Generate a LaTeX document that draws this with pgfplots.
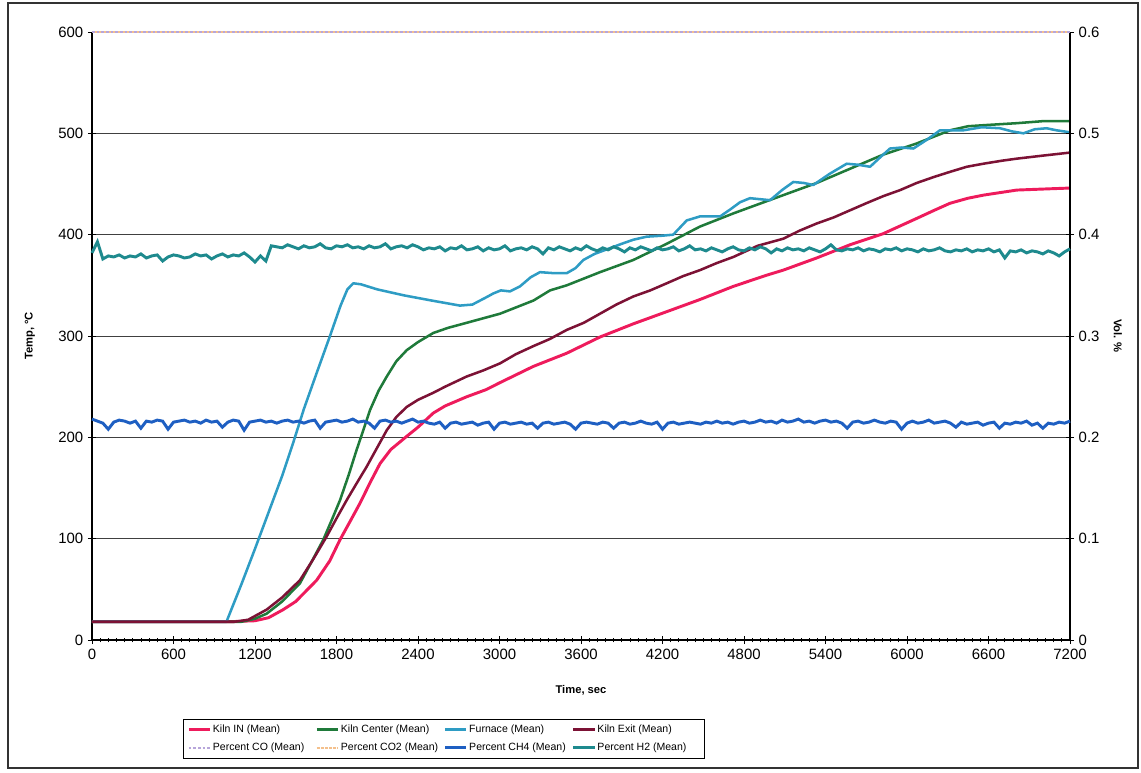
\documentclass[border=0pt]{standalone}
\usepackage{fontspec}
\setmainfont{Liberation Sans}
\usepackage{pgfplots}
\pgfplotsset{compat=1.18}

\definecolor{kilnin}{HTML}{EE1B5C}
\definecolor{kilncenter}{HTML}{1F7A3A}
\definecolor{furnace}{HTML}{2E9CC4}
\definecolor{kilnexit}{HTML}{7C1235}
\definecolor{pco}{HTML}{B7A6DA}
\definecolor{pcotwo}{HTML}{F4C08C}
\definecolor{pch}{HTML}{1E5FC2}
\definecolor{phtwo}{HTML}{1E8A8E}

\pgfplotsset{
  every axis/.append style={
    scale only axis, width=733.5pt, height=456pt,
    xmin=0, xmax=7200,
    tick label style={font=\fontsize{11.2}{13}\selectfont},
    /pgf/number format/assume math mode=true,
    /pgf/number format/1000 sep={},
    scaled ticks=false,
    tick align=center,
    major tick length=6pt,
    minor tick length=3.5pt,
    tick style={black, line width=0.6pt},
    axis line style={black, line width=0.8pt},
    label style={font=\fontsize{8.4}{10}\selectfont\bfseries},
  },
  leg/.style={legend image code/.code={\draw[##1] (0pt,0pt) -- (16pt,0pt);}},
}

\begin{document}
\begin{tikzpicture}
\begin{axis}[
  name=ax1,
  axis x line*=bottom, axis y line*=left,
  ymin=0, ymax=600,
  xtick={0,600,...,7200},
  minor x tick num=9,
  ytick={0,100,...,600},
  ymajorgrids,
  grid style={black!75, line width=0.5pt},
  xlabel={Time, sec},
  ylabel={Temp, °C},
  xlabel style={at={(axis description cs:0.5,-0.0822)}, anchor=center},
  ylabel style={at={(axis description cs:-0.0634,0.5)}, anchor=center},
  line join=round,
]
\addplot[kilnin, line width=2.2pt] coordinates {
(0,18)(1000,18)(1200,19)(1300,22)(1408,30)(1500,38)(1654,59)(1750,78)(1826,99)(1900,117)
(1973,135)(2050,156)(2120,174)(2200,188)(2317,201)(2400,210)(2513,224)(2600,231)(2758,240)
(2900,247)(3004,254)(3249,270)(3495,283)(3740,299)(3985,312)(4231,324)(4476,336)(4722,349)
(4967,360)(5089,365)(5335,377)(5580,390)(5825,401)(6071,416)(6200,424)(6317,431)(6450,436)
(6562,439)(6808,444)(7000,445)(7200,446)
};
\addplot[kilncenter, line width=1.9pt] coordinates {
(0,18)(1100,18)(1200,21)(1286,26)(1400,38)(1531,56)(1620,78)(1703,99)(1770,120)(1826,138)
(1890,163)(1949,188)(2000,208)(2047,227)(2110,246)(2170,260)(2240,275)(2317,286)(2400,294)
(2513,303)(2620,308)(2758,313)(3004,322)(3250,335)(3372,345)(3495,350)(3740,363)(3985,375)
(4231,391)(4476,408)(4722,421)(4844,427)(5089,439)(5335,451)(5580,465)(5825,479)(6071,490)
(6317,503)(6450,507)(6562,508)(6808,510)(7000,512)(7200,512)
};
\addplot[furnace, line width=1.9pt] coordinates {
(0,18)(990,18)(1100,55)(1200,90)(1300,126)(1400,162)(1482,195)(1560,228)(1650,262)(1752,300)
(1830,330)(1880,346)(1924,352)(1980,351)(2100,346)(2300,340)(2500,335)(2709,330)(2800,331)
(2900,338)(2955,342)(3010,345)(3077,344)(3151,349)(3230,358)(3298,363)(3400,362)(3495,362)
(3560,367)(3617,375)(3700,381)(3800,386)(3900,391)(3985,395)(4083,398)(4200,399)(4279,400)
(4378,414)(4476,418)(4624,418)(4700,425)(4771,432)(4844,436)(4992,434)(5080,444)(5163,452)
(5240,451)(5310,449)(5430,460)(5556,470)(5640,469)(5728,467)(5800,476)(5875,485)(5960,486)
(6047,485)(6150,494)(6243,503)(6330,503)(6416,503)(6550,506)(6685,505)(6770,502)(6857,500)
(6940,504)(7028,505)(7100,503)(7200,501)
};
\addplot[kilnexit, line width=1.9pt] coordinates {
(0,18)(1050,18)(1150,20)(1286,30)(1400,42)(1531,59)(1630,80)(1727,102)(1800,120)(1875,138)
(1950,155)(2022,171)(2100,190)(2170,207)(2240,220)(2317,230)(2400,237)(2513,244)(2600,250)
(2758,260)(2880,266)(3004,273)(3120,282)(3249,290)(3370,297)(3495,306)(3620,313)(3740,322)
(3860,331)(3985,339)(4110,345)(4231,352)(4350,359)(4476,365)(4600,372)(4722,378)(4900,389)
(5089,396)(5210,404)(5335,411)(5460,417)(5580,424)(5700,431)(5825,438)(5950,444)(6071,451)
(6200,457)(6317,462)(6440,467)(6562,470)(6700,473)(6808,475)(7000,478)(7200,481)
};
\end{axis}

\begin{axis}[
  axis x line=none, axis y line*=right,
  ymin=0, ymax=0.6,
  ytick={0,0.1,...,0.6},
  yticklabel style={/pgf/number format/fixed, /pgf/number format/precision=1},
  ylabel={Vol. \%},
  ylabel style={at={(axis description cs:1.049,0.5)}, anchor=center, rotate=180},
  clip=false,
  leg,
  legend columns=4,
  legend style={
    at={(0.093,-0.130)}, anchor=north west,
    draw=black, line width=0.6pt, fill=white,
    font=\fontsize{7.9}{9}\selectfont,
    nodes={inner xsep=1pt, inner ysep=2pt},
    row sep=2.5pt,
    /tikz/every even column/.append style={column sep=0pt},
  },
  legend cell align=left,
]
\addlegendimage{kilnin, line width=2.2pt}
\addlegendentry{\makebox[76pt][l]{Kiln IN (Mean)}}
\addlegendimage{kilncenter, line width=2pt}
\addlegendentry{\makebox[76pt][l]{Kiln Center (Mean)}}
\addlegendimage{furnace, line width=2pt}
\addlegendentry{\makebox[76pt][l]{Furnace (Mean)}}
\addlegendimage{kilnexit, line width=2pt}
\addlegendentry{\makebox[76pt][l]{Kiln Exit (Mean)}}

\addplot[pcotwo, line width=1pt, forget plot] coordinates {(0,0.6)(7200,0.6)};
\addplot[pco, line width=1.2pt, dash pattern=on 2pt off 1.5pt] coordinates {(0,0.6)(7200,0.6)};
\addlegendentry{\makebox[76pt][l]{Percent CO (Mean)}}
\addlegendimage{pcotwo, line width=1.2pt, dash pattern=on 2pt off 1pt}
\addlegendentry{\makebox[76pt][l]{Percent CO2 (Mean)}}

\addplot[pch, line width=2.2pt] coordinates {
(0,.218)(40,.216)(80,.214)(120,.208)(160,.215)(200,.217)(240,.216)(280,.214)(320,.216)(360,.209)
(400,.216)(440,.215)(480,.217)(520,.216)(560,.208)(600,.215)(640,.216)(680,.217)(720,.215)(760,.216)
(800,.214)(840,.217)(880,.215)(920,.216)(960,.210)(1000,.215)(1040,.217)(1080,.216)(1120,.207)(1160,.215)
(1200,.216)(1240,.217)(1280,.215)(1320,.216)(1360,.214)(1400,.216)(1440,.217)(1480,.215)(1520,.216)(1560,.214)
(1600,.216)(1640,.217)(1680,.209)(1720,.215)(1760,.216)(1800,.217)(1840,.215)(1880,.216)(1920,.218)(1960,.215)
(2000,.216)(2040,.214)(2080,.209)(2120,.216)(2160,.217)(2200,.215)(2240,.216)(2280,.214)(2320,.216)(2360,.218)
(2400,.215)(2440,.216)(2480,.214)(2520,.213)(2560,.215)(2600,.209)(2640,.214)(2680,.215)(2720,.213)(2760,.214)
(2800,.215)(2840,.212)(2880,.214)(2920,.215)(2960,.208)(3000,.214)(3040,.215)(3080,.213)(3120,.214)(3160,.215)
(3200,.213)(3240,.214)(3280,.209)(3320,.214)(3360,.215)(3400,.213)(3440,.214)(3480,.215)(3520,.213)(3560,.208)
(3600,.214)(3640,.215)(3680,.214)(3720,.213)(3760,.215)(3800,.214)(3840,.209)(3880,.214)(3920,.215)(3960,.213)
(4000,.214)(4040,.216)(4080,.214)(4120,.213)(4160,.215)(4200,.208)(4240,.214)(4280,.215)(4320,.213)(4360,.214)
(4400,.215)(4440,.214)(4480,.213)(4520,.215)(4560,.214)(4600,.216)(4640,.214)(4680,.215)(4720,.213)(4760,.215)
(4800,.216)(4840,.214)(4880,.215)(4920,.217)(4960,.215)(5000,.216)(5040,.214)(5080,.217)(5120,.215)(5160,.216)
(5200,.218)(5240,.215)(5280,.216)(5320,.214)(5360,.216)(5400,.217)(5440,.215)(5480,.216)(5520,.214)(5560,.209)
(5600,.215)(5640,.216)(5680,.214)(5720,.215)(5760,.217)(5800,.215)(5840,.214)(5880,.216)(5920,.215)(5960,.208)
(6000,.214)(6040,.216)(6080,.214)(6120,.215)(6160,.217)(6200,.214)(6240,.215)(6280,.216)(6320,.214)(6360,.210)
(6400,.215)(6440,.213)(6480,.214)(6520,.215)(6560,.212)(6600,.214)(6640,.215)(6680,.209)(6720,.214)(6760,.213)
(6800,.215)(6840,.214)(6880,.216)(6920,.212)(6960,.214)(7000,.209)(7040,.214)(7080,.213)(7120,.215)(7160,.214)
(7200,.216)
};
\addlegendentry{\makebox[76pt][l]{Percent CH4 (Mean)}}
\addplot[phtwo, line width=2.2pt] coordinates {
(0,.382)(40,.393)(80,.376)(120,.379)(160,.378)(200,.380)(240,.377)(280,.379)(320,.378)(360,.381)
(400,.377)(440,.379)(480,.380)(520,.374)(560,.378)(600,.380)(640,.379)(680,.377)(720,.378)(760,.381)
(800,.379)(840,.380)(880,.376)(920,.379)(960,.381)(1000,.378)(1040,.380)(1080,.379)(1120,.382)(1160,.378)
(1200,.373)(1240,.379)(1280,.374)(1320,.389)(1360,.388)(1400,.387)(1440,.390)(1480,.388)(1520,.386)(1560,.389)
(1600,.387)(1640,.388)(1680,.391)(1720,.387)(1760,.386)(1800,.389)(1840,.388)(1880,.390)(1920,.387)(1960,.388)
(2000,.386)(2040,.389)(2080,.387)(2120,.388)(2160,.391)(2200,.386)(2240,.388)(2280,.389)(2320,.387)(2360,.390)
(2400,.388)(2440,.385)(2480,.387)(2520,.386)(2560,.388)(2600,.384)(2640,.387)(2680,.386)(2720,.389)(2760,.385)
(2800,.386)(2840,.388)(2880,.384)(2920,.387)(2960,.385)(3000,.386)(3040,.389)(3080,.384)(3120,.386)(3160,.387)
(3200,.385)(3240,.388)(3280,.386)(3320,.381)(3360,.387)(3400,.385)(3440,.388)(3480,.386)(3520,.384)(3560,.387)
(3600,.385)(3640,.389)(3680,.386)(3720,.384)(3760,.387)(3800,.385)(3840,.388)(3880,.386)(3920,.383)(3960,.387)
(4000,.385)(4040,.388)(4080,.386)(4120,.384)(4160,.387)(4200,.385)(4240,.386)(4280,.388)(4320,.384)(4360,.386)
(4400,.389)(4440,.385)(4480,.386)(4520,.384)(4560,.387)(4600,.385)(4640,.383)(4680,.386)(4720,.388)(4760,.385)
(4800,.384)(4840,.387)(4880,.385)(4920,.388)(4960,.386)(5000,.382)(5040,.386)(5080,.384)(5120,.387)(5160,.385)
(5200,.386)(5240,.384)(5280,.387)(5320,.385)(5360,.383)(5400,.386)(5440,.390)(5480,.385)(5520,.384)(5560,.386)
(5600,.385)(5640,.387)(5680,.384)(5720,.386)(5760,.385)(5800,.383)(5840,.386)(5880,.385)(5920,.387)(5960,.384)
(6000,.386)(6040,.385)(6080,.383)(6120,.386)(6160,.384)(6200,.385)(6240,.387)(6280,.384)(6320,.383)(6360,.385)
(6400,.384)(6440,.386)(6480,.383)(6520,.385)(6560,.384)(6600,.386)(6640,.383)(6680,.385)(6720,.377)(6760,.384)
(6800,.383)(6840,.385)(6880,.382)(6920,.384)(6960,.383)(7000,.381)(7040,.384)(7080,.382)(7120,.379)(7160,.383)
(7200,.386)
};
\addlegendentry{\makebox[76pt][l]{Percent H2 (Mean)}}
\end{axis}

\path ([shift={(-69pt,-99pt)}]ax1.south west) rectangle ([shift={(53.25pt,24pt)}]ax1.north east);
\draw[black!80, line width=0.8pt] ([shift={(-63pt,-96pt)}]ax1.south west) rectangle ([shift={(51pt,21.75pt)}]ax1.north east);
\end{tikzpicture}
\end{document}
